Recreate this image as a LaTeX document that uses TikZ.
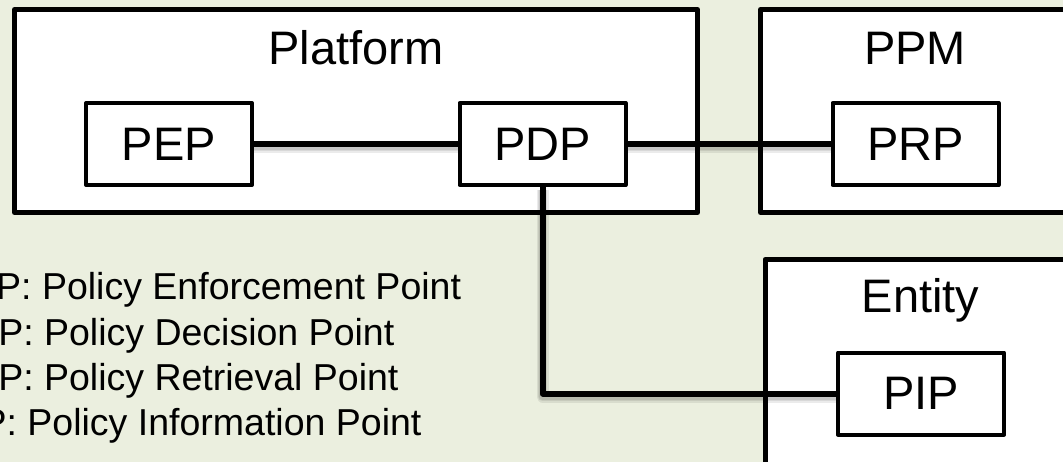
\documentclass[tikz,border=0pt]{standalone}
\usepackage{fontspec}
\setmainfont{Liberation Sans}
\usetikzlibrary{positioning,calc}
\definecolor{bgolive}{RGB}{235,239,223}

\begin{document}
\begin{tikzpicture}[x=1pt,y=-1pt,
  frame/.style={draw=black,fill=white,line width=5pt,line join=round},
  unit/.style={draw=black,fill=white,line width=4pt,line join=round,
    minimum width=166pt,minimum height=82pt,inner sep=0pt,
    font=\fontsize{47}{56}\selectfont},
  title/.style={anchor=base,inner sep=0pt,font=\fontsize{47}{56}\selectfont},
  legend/.style={anchor=base west,inner sep=0pt,font=\fontsize{37.5}{45}\selectfont},
  link/.style={line width=6pt,line join=round},
  linkshadow/.style={line width=#1,line join=round,black,opacity=0.08,
    transform canvas={yshift=-3pt}}]
\fill[bgolive] (0,0) rectangle (1063,462);
\useasboundingbox (0,0) rectangle (1063,462);
% enclosing components
\draw[frame] (14.5,9.5) rectangle (697.5,212.5);
\draw[frame] (760.5,9.5) rectangle (1070,212.5);
\draw[frame] (765,259.5) rectangle (1077,520);
\node[title] (platform) at (356,65) {Platform};
\node[title] (ppm) at (915,65) {PPM};
\node[title] (entity) at (920.5,313) {Entity};
% policy points
\node[unit] (pep) at (169,144) {PEP};
\node[unit] (pdp) at (542.5,144) {PDP};
\node[unit] (prp) at (915.5,144) {PRP};
\node[unit] (pip) at (921,393.5) {PIP};
% links, soft shadow first
\foreach \w in {12pt,9pt,7pt}{
  \draw[linkshadow=\w] (pep) -- (pdp) (pdp) -- (prp) (pdp) |- (pip);
}
\draw[link] (pep) -- (pdp) (pdp) -- (prp) (pdp) |- (pip);
% abbreviations
\foreach \k/\txt in {0/{PEP: Policy Enforcement Point},1/{PDP: Policy Decision Point},
    2/{PRP: Policy Retrieval Point},3/{PIP: Policy Information Point}}{
  \node[legend] (leg\k) at (-54,{300+45*\k}) {\txt};
}
\end{tikzpicture}
\end{document}
